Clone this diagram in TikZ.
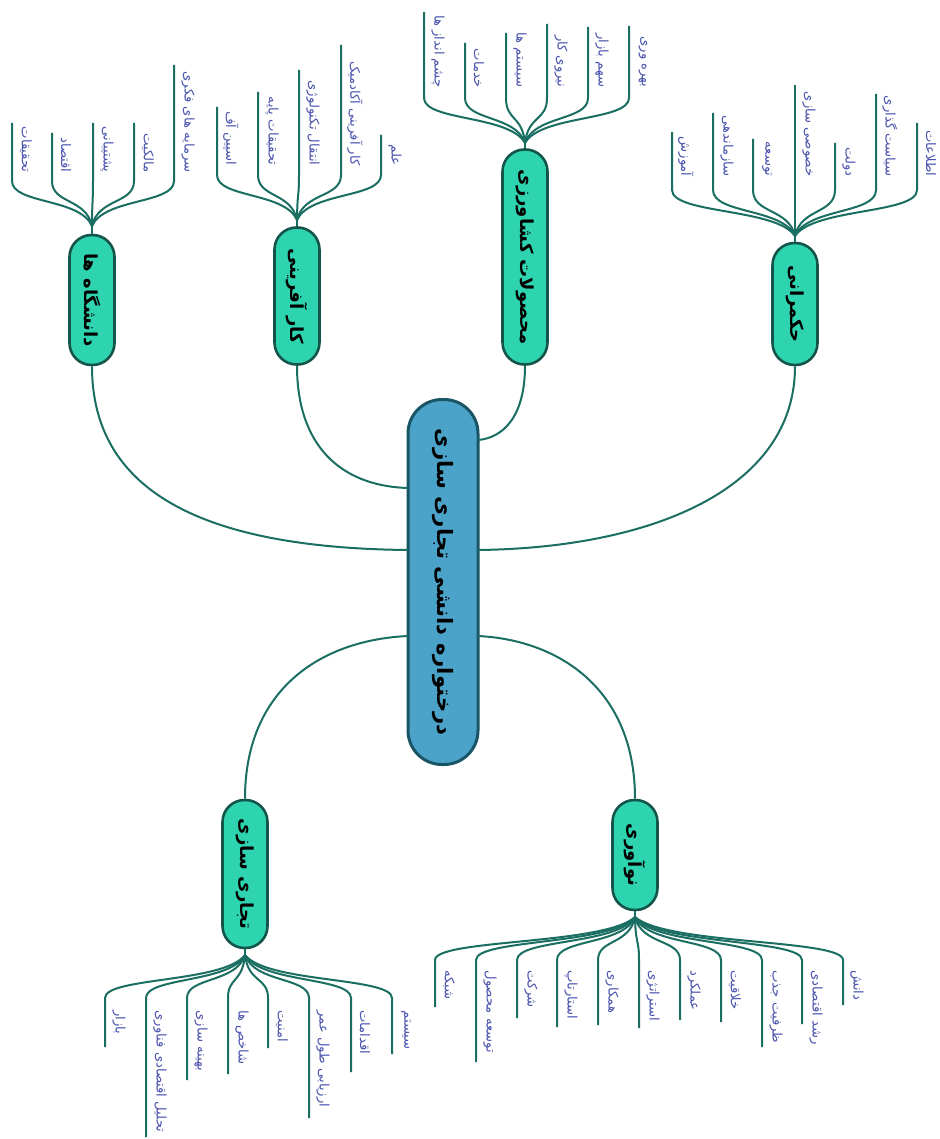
\documentclass[tikz,border=0pt]{standalone}
\usepackage{fontspec}
\newfontfamily\fa[Script=Arabic]{DejaVu Sans}
\TeXXeTstate=1
\definecolor{lnc}{RGB}{26,110,98}
\definecolor{ltc}{RGB}{75,85,175}
\definecolor{brf}{RGB}{46,212,176}
\definecolor{brd}{RGB}{20,85,75}
\definecolor{cnf}{RGB}{76,163,202}
\definecolor{cnd}{RGB}{25,85,100}
\begin{document}
\begin{tikzpicture}[x=0.5pt,y=-0.5pt,
  box/.style={draw=brd, line width=1.3pt, fill=brf, rounded corners=11pt, minimum width=22.5pt, inner sep=0pt},
  cbox/.style={draw=cnd, line width=1.5pt, fill=cnf, rounded corners=17pt, minimum width=35pt, minimum height=182.5pt, inner sep=0pt},
  btxt/.style={rotate=-90, inner sep=0pt, font=\fa\bfseries\fontsize{9}{9}\selectfont, text=black},
  ctxt/.style={rotate=-90, inner sep=0pt, font=\fa\bfseries\fontsize{10.6}{10.6}\selectfont, text=black},
  ltxt/.style={rotate=-90, inner sep=0pt, font=\fa\fontsize{6.6}{6.6}\selectfont, text=ltc},
  conn/.style={draw=lnc, line width=1pt},
  leaf/.style={draw=lnc, line width=1pt}]
\useasboundingbox (0,0) rectangle (939,1139);
\fill[white] (0,0) rectangle (939,1139);

% central
\node[cbox] (cen) at (443,582) {};
\node[ctxt] (cent) at (cen) {\beginR درختواره دانشی تجاری سازی\endR};

% branches
\node[box, minimum height=65pt] (A) at (92,300) {};
\node[btxt] (At) at (A) {\beginR دانشگاه ها\endR};
\node[box, minimum height=68.5pt] (B) at (297,296) {};
\node[btxt] (Bt) at (B) {\beginR کار آفرینی\endR};
\node[box, minimum height=107.5pt] (C) at (525,257) {};
\node[btxt] (Ct) at (C) {\beginR محصولات کشاورزی\endR};
\node[box, minimum height=61pt] (D) at (795,304) {};
\node[btxt] (Dt) at (D) {\beginR حکمرانی\endR};
\node[box, minimum height=74pt] (E) at (245,874) {};
\node[btxt] (Et) at (E) {\beginR تجاری سازی\endR};
\node[box, minimum height=55pt] (F) at (635,855) {};
\node[btxt] (Ft) at (F) {\beginR نوآوری\endR};

% attachment points on the central node
\coordinate (pA) at (408,550);
\coordinate (pB) at (408,488);
\coordinate (pC) at (478,440);
\coordinate (pD) at (478,550);
\coordinate (pE) at (408,636);
\coordinate (pF) at (478,636);

\draw[conn] (A.south) .. controls (92,490) and (200,548) .. (pA);
\draw[conn] (B.south) .. controls (297,445) and (340,486) .. (pB);
\draw[conn] (C.south) .. controls (525,418) and (502,438) .. (pC);
\draw[conn] (D.south) .. controls (795,490) and (650,548) .. (pD);
\draw[conn] (E.north) .. controls (245,690) and (320,640) .. (pE);
\draw[conn] (F.north) .. controls (635,690) and (560,640) .. (pF);

% group A
\coordinate (fA) at (92,226);
\draw[conn] (A.north) -- (fA);
\foreach \i/\x/\t/\s in {1/12/123/تحقیقات, 2/52/133/اقتصاد, 3/93/123/پشتیبانی, 4/134/123/مالکیت, 5/174/65/سرمایه های فکری}{
  \draw[leaf] (fA) .. controls ({92+0.15*(\x-92)},198) and (\x,204) .. (\x,181) -- (\x,\t);
  \node[ltxt, anchor=east] (A\i) at ({\x+14},173) {\beginR\s\endR};
}
% group B
\coordinate (fB) at (297,220);
\draw[conn] (B.north) -- (fB);
\foreach \i/\x/\t/\s in {1/217/107/اسپین آف, 2/258/92/تحقیقات پایه, 3/299/70/انتقال تکنولوژی, 4/341/45/کار آفرینی آکادمیک, 5/381/135/علم}{
  \draw[leaf] (fB) .. controls ({297+0.15*(\x-297)},192) and (\x,198) .. (\x,175) -- (\x,\t);
  \node[ltxt, anchor=east] (B\i) at ({\x+14},166) {\beginR\s\endR};
}
% group C
\coordinate (fC) at (525,143);
\draw[conn] (C.north) -- (fC);
\foreach \i/\x/\t/\s in {1/424/12/چشم انداز ها, 2/465/43/خدمات, 3/506/33/سیستم ها, 4/547/24/نیروی کار, 5/588/27/سهم بازار, 6/629/26/بهره وری}{
  \draw[leaf] (fC) .. controls ({525+0.15*(\x-525)},115) and (\x,121) .. (\x,98) -- (\x,\t);
  \node[ltxt, anchor=east] (C\i) at ({\x+14},88) {\beginR\s\endR};
}
% group D
\coordinate (fD) at (795,236);
\draw[conn] (D.north) -- (fD);
\foreach \i/\x/\t/\s in {1/672/132/آموزش, 2/713/113/سازماندهی, 3/753/139/توسعه, 4/795/85/خصوصی سازی, 5/835/143/دولت, 6/876/94/سیاست گذاری, 7/917/123/اطلاعات}{
  \draw[leaf] (fD) .. controls ({795+0.15*(\x-795)},208) and (\x,214) .. (\x,190) -- (\x,\t);
  \node[ltxt, anchor=east] (D\i) at ({\x+14},177) {\beginR\s\endR};
}
% group E
\coordinate (fE) at (245,955);
\draw[conn] (E.south) -- (fE);
\foreach \i/\x/\t/\s in {1/105/1047/بازار, 2/146/1137/تحلیل اقتصادی فناوری, 3/187/1080/بهینه سازی, 4/228/1074/شاخص ها, 5/268/1048/امنیت, 6/309/1118/ارزیابی طول عمر, 7/351/1072/اقدامات, 8/392/1054/سیستم}{
  \draw[leaf] (fE) .. controls ({245+0.15*(\x-245)},983) and (\x,977) .. (\x,998) -- (\x,\t);
  \node[ltxt, anchor=west] (E\i) at ({\x+14},1010) {\beginR\s\endR};
}
% group F
\coordinate (fF) at (635,917);
\draw[conn] (F.south) -- (fF);
\foreach \i/\x/\t/\s in {1/435/1007/شبکه, 2/476/1062/توسعه محصول, 3/517/1018/شرکت, 4/557/1027/استارتاپ, 5/598/1025/همکاری, 6/639/1028/استراتژی, 7/680/1020/عملکرد, 8/721/1022/خلاقیت, 9/762/1047/ظرفیت جذب, 10/802/1024/رشد اقتصادی, 11/843/1005/دانش}{
  \draw[leaf] (fF) .. controls ({635+0.15*(\x-635)},945) and (\x,939) .. (\x,960) -- (\x,\t);
  \node[ltxt, anchor=west] (F\i) at ({\x+14},970) {\beginR\s\endR};
}
\end{tikzpicture}
\end{document}
